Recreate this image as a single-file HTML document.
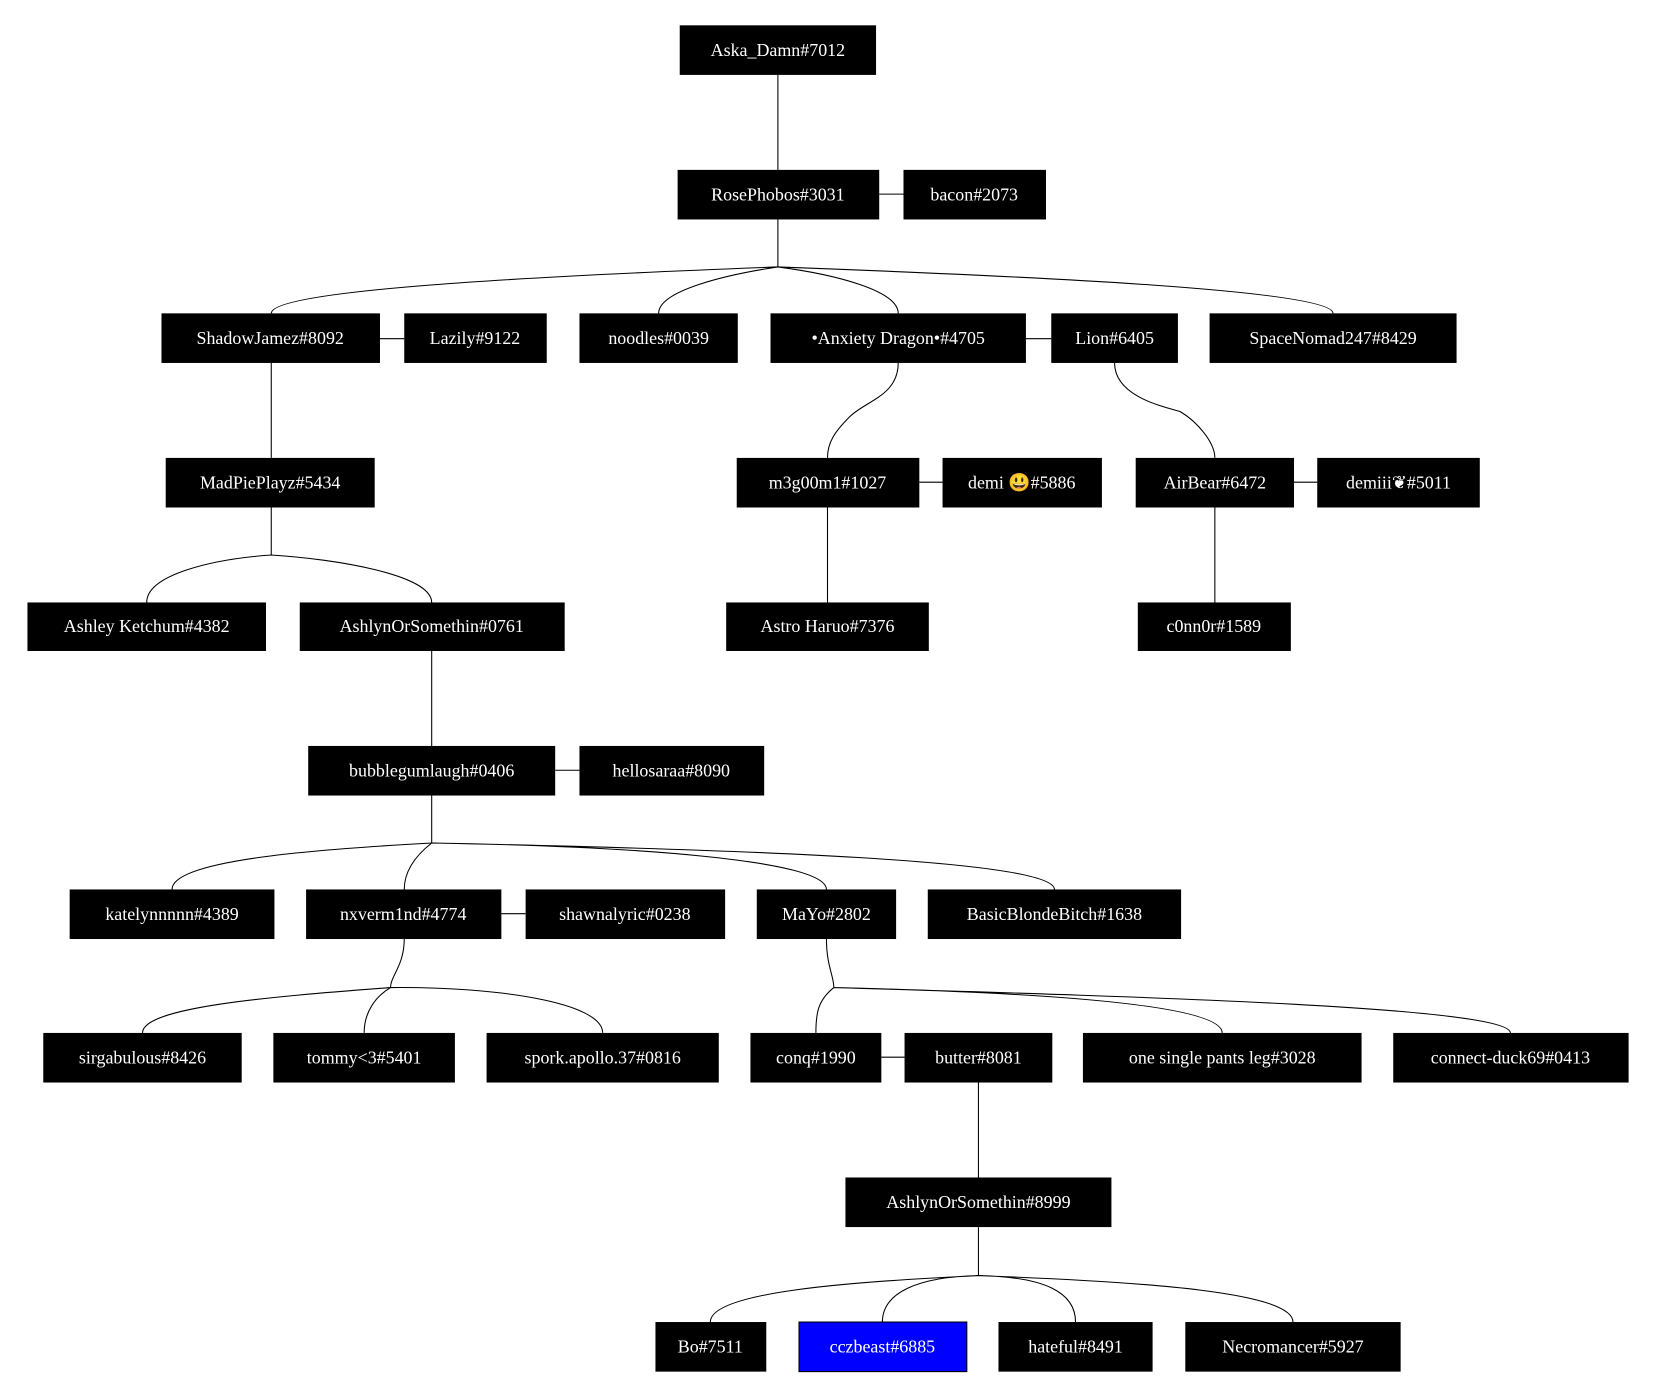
<!DOCTYPE html>
<html><head><meta charset="utf-8"><style>html,body{margin:0;padding:0;background:#fff}svg{display:block}</style></head><body>
<svg width="1655" height="1398" viewBox="0 0 1568 1325" preserveAspectRatio="none" xmlns="http://www.w3.org/2000/svg">
<g fill="none" stroke="#000" stroke-width="1">
<path d="M737 71V161M737 208V253M257 344V434M409 617V707M784 481V571M1151 481V571M927 1026V1116M257 481V526M409 754V799M927 1163V1209"/>
<path d="M833 184H856M360 321H383M972 321H996M871 457H893M1226 457H1248M526 730H549M475 866H498M835 1002H857"/>
<path d="M851 344C851 375 820 380 805 395C790 410 784 420 784 434"/>
<path d="M1056 344C1056 375 1100 385 1118 390C1135 400 1151 420 1151 434"/>
<path d="M737 253C500 262 257 275 257 297M737 253C690 260 624 275 624 297M737 253C790 260 851 275 851 297M737 253C980 262 1263 275 1263 297"/>
<path d="M257 526C200 530 139 545 139 571M257 526C320 530 409 545 409 571"/>
<path d="M409 799C300 805 163 815 163 843M409 799C395 810 383 825 383 843M409 799C600 802 783 815 783 843M409 799C700 805 999 815 999 843"/>
<path d="M383 890C383 915 370 925 370 936M370 936C250 945 135 955 135 979M370 936C355 945 345 960 345 979M370 936C470 935 571 950 571 979"/>
<path d="M783 890C783 915 790 925 790 936M790 936C775 948 773 960 773 979M790 936C960 940 1158 950 1158 979M790 936C1100 945 1431 955 1431 979"/>
<path d="M927 1209C800 1215 673 1225 673 1253M927 1209C870 1210 836 1225 836 1253M927 1209C990 1210 1019 1225 1019 1253M927 1209C1090 1215 1225 1225 1225 1253"/>
</g>
<g font-family="Liberation Serif, 'DejaVu Serif', serif" font-size="17" text-anchor="middle">
<rect x="644" y="24" width="186" height="47"/><text x="737" y="53" fill="#fff">Aska_Damn#7012</text>
<rect x="642" y="161" width="191" height="47"/><text x="737" y="190" fill="#fff">RosePhobos#3031</text>
<rect x="856" y="161" width="135" height="47"/><text x="923" y="190" fill="#fff">bacon#2073</text>
<rect x="153" y="297" width="207" height="47"/><text x="256" y="326" fill="#fff">ShadowJamez#8092</text>
<rect x="383" y="297" width="135" height="47"/><text x="450" y="326" fill="#fff">Lazily#9122</text>
<rect x="549" y="297" width="150" height="47"/><text x="624" y="326" fill="#fff">noodles#0039</text>
<rect x="730" y="297" width="242" height="47"/><text x="851" y="326" fill="#fff">•Anxiety Dragon•#4705</text>
<rect x="996" y="297" width="120" height="47"/><text x="1056" y="326" fill="#fff">Lion#6405</text>
<rect x="1146" y="297" width="234" height="47"/><text x="1263" y="326" fill="#fff">SpaceNomad247#8429</text>
<rect x="157" y="434" width="198" height="47"/><text x="256" y="463" fill="#fff">MadPiePlayz#5434</text>
<rect x="698" y="434" width="173" height="47"/><text x="784" y="463" fill="#fff">m3g00m1#1027</text>
<rect x="893" y="434" width="151" height="47"/><text x="968" y="463" fill="#fff">demi 😃#5886</text>
<rect x="1076" y="434" width="150" height="47"/><text x="1151" y="463" fill="#fff">AirBear#6472</text>
<rect x="1248" y="434" width="154" height="47"/><text x="1325" y="463" fill="#fff">demiii❦#5011</text>
<rect x="26" y="571" width="226" height="46"/><text x="139" y="599" fill="#fff">Ashley Ketchum#4382</text>
<rect x="284" y="571" width="251" height="46"/><text x="409" y="599" fill="#fff">AshlynOrSomethin#0761</text>
<rect x="688" y="571" width="192" height="46"/><text x="784" y="599" fill="#fff">Astro Haruo#7376</text>
<rect x="1078" y="571" width="145" height="46"/><text x="1150" y="599" fill="#fff">c0nn0r#1589</text>
<rect x="292" y="707" width="234" height="47"/><text x="409" y="736" fill="#fff">bubblegumlaugh#0406</text>
<rect x="549" y="707" width="175" height="47"/><text x="636" y="736" fill="#fff">hellosaraa#8090</text>
<rect x="66" y="843" width="194" height="47"/><text x="163" y="872" fill="#fff">katelynnnnn#4389</text>
<rect x="290" y="843" width="185" height="47"/><text x="382" y="872" fill="#fff">nxverm1nd#4774</text>
<rect x="498" y="843" width="189" height="47"/><text x="592" y="872" fill="#fff">shawnalyric#0238</text>
<rect x="717" y="843" width="132" height="47"/><text x="783" y="872" fill="#fff">MaYo#2802</text>
<rect x="879" y="843" width="240" height="47"/><text x="999" y="872" fill="#fff">BasicBlondeBitch#1638</text>
<rect x="41" y="979" width="188" height="47"/><text x="135" y="1008" fill="#fff">sirgabulous#8426</text>
<rect x="259" y="979" width="172" height="47"/><text x="345" y="1008" fill="#fff">tommy&lt;3#5401</text>
<rect x="461" y="979" width="220" height="47"/><text x="571" y="1008" fill="#fff">spork.apollo.37#0816</text>
<rect x="711" y="979" width="124" height="47"/><text x="773" y="1008" fill="#fff">conq#1990</text>
<rect x="857" y="979" width="140" height="47"/><text x="927" y="1008" fill="#fff">butter#8081</text>
<rect x="1026" y="979" width="264" height="47"/><text x="1158" y="1008" fill="#fff">one single pants leg#3028</text>
<rect x="1320" y="979" width="223" height="47"/><text x="1431" y="1008" fill="#fff">connect-duck69#0413</text>
<rect x="801" y="1116" width="252" height="47"/><text x="927" y="1145" fill="#fff">AshlynOrSomethin#8999</text>
<rect x="621" y="1253" width="105" height="47"/><text x="673" y="1282" fill="#fff">Bo#7511</text>
<rect x="757" y="1253" width="159" height="47" fill="#0000ff" stroke="#000" stroke-width="1"/><text x="836" y="1282" fill="#fff">cczbeast#6885</text>
<rect x="946" y="1253" width="146" height="47"/><text x="1019" y="1282" fill="#fff">hateful#8491</text>
<rect x="1123" y="1253" width="204" height="47"/><text x="1225" y="1282" fill="#fff">Necromancer#5927</text>
</g>
</svg>
</body></html>
